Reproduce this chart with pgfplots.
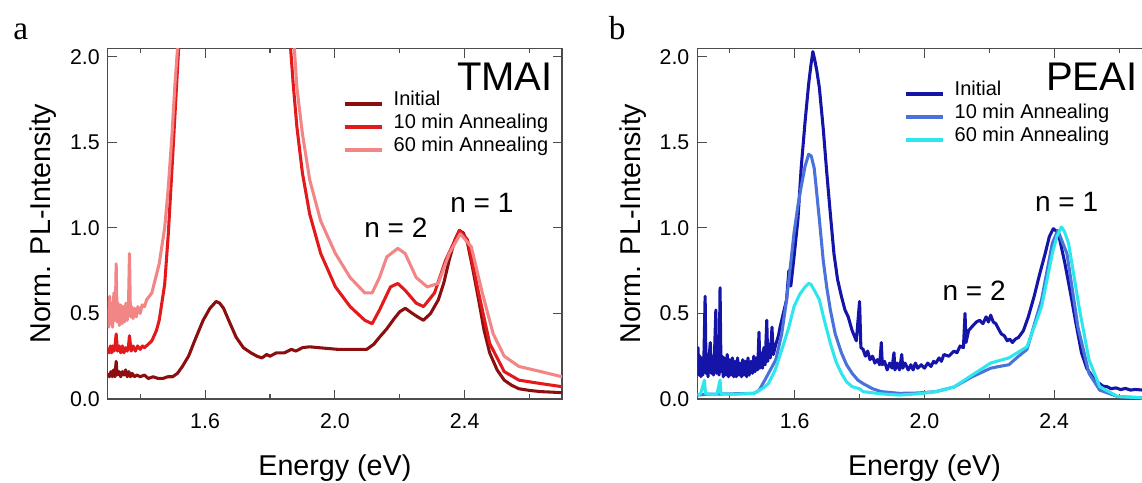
\documentclass[border=0pt]{standalone}
\usepackage{pgfplots}
\pgfplotsset{compat=1.18}
\usepackage{fontspec}
\setmainfont{Liberation Sans}
\newfontfamily\seriffont{Liberation Serif}
\definecolor{rI}{HTML}{8C0E0E}
\definecolor{rA}{HTML}{E31A1C}
\definecolor{rB}{HTML}{F28585}
\definecolor{bI}{HTML}{1414A8}
\definecolor{bA}{HTML}{4A72DB}
\definecolor{bB}{HTML}{2EE6EE}
\tikzset{lab/.style={anchor=base, inner sep=0pt, font=\fontsize{21}{25}\selectfont}}
\pgfplotsset{
 panel/.style={
  scale only axis, width=340.7pt, height=263pt, anchor=south west,
  xmin=1.3, xmax=2.7, ymin=0, ymax=2.049,
  xtick={1.6,2.0,2.4}, xticklabels={1.6,2.0,2.4},
  minor xtick={1.4,1.8,2.2,2.6},
  ytick={0,0.5,1,1.5,2}, yticklabels={0.0,0.5,1.0,1.5,2.0},
  tick align=inside, xtick pos=both, ytick pos=both,
  xticklabel pos=lower, yticklabel pos=left,
  major tick length=7pt, minor tick length=3.5pt,
  axis line style={black!70, line width=0.8pt},
  every tick/.style={black!70, line width=0.8pt},
  tick label style={font=\fontsize{16}{19}\selectfont},
  xticklabel style={anchor=center, yshift=-16.3pt},
  yticklabel style={anchor=east, inner sep=0pt, xshift=-5.8pt},
  xlabel={Energy (eV)}, ylabel={Norm. PL-Intensity},
  xlabel style={at={(axis description cs:0.5,-0.2187)}, anchor=base, font=\fontsize{21.5}{26}\selectfont},
  ylabel style={at={(axis description cs:-0.125,0.5)}, anchor=base, font=\fontsize{21.5}{26}\selectfont},
  legend style={anchor=west, draw=none, fill=none, inner sep=0pt, outer sep=0pt,
    font=\fontsize{15}{18}\selectfont,
    nodes={inner sep=0pt, text height=11pt, text depth=3pt, anchor=base west},
    row sep=3.25pt, /tikz/every odd column/.append style={column sep=7.7pt}},
  legend cell align=left,
  legend image code/.code={\draw[#1, line width=2.3pt] (0pt,1pt) -- (28pt,1pt);},
  every axis plot/.append style={line width=2.3pt, line join=round},
 },
}
\begin{document}
\begin{tikzpicture}
\path[use as bounding box] (0,0) rectangle (856.5pt,361.5pt);
\clip (0,0) rectangle (856.5pt,361.5pt);
% ---------------- panel a ----------------
\begin{axis}[panel, at={(80.8pt,62.25pt)},
  legend style={at={(axis description cs:0.518,0.787)}}]
\addplot[rI] coordinates {
(1.300,0.15)(1.305,0.13)(1.310,0.16)(1.314,0.13)(1.318,0.17)(1.322,0.13)(1.326,0.22)(1.329,0.14)
(1.335,0.16)(1.340,0.13)(1.345,0.16)(1.350,0.14)(1.355,0.17)(1.360,0.13)(1.365,0.16)(1.370,0.13)
(1.375,0.15)(1.382,0.13)(1.390,0.14)(1.400,0.13)(1.413,0.14)(1.425,0.12)(1.440,0.13)(1.455,0.12)
(1.470,0.12)(1.485,0.13)(1.500,0.13)
(1.515,0.15)(1.530,0.19)(1.549,0.25)(1.570,0.35)(1.594,0.46)(1.615,0.53)(1.634,0.57)
(1.645,0.56)(1.657,0.53)(1.675,0.45)(1.696,0.36)(1.718,0.30)(1.741,0.27)(1.760,0.25)
(1.775,0.24)(1.790,0.26)(1.800,0.25)(1.820,0.27)(1.845,0.27)(1.866,0.29)(1.880,0.28)
(1.900,0.30)(1.922,0.305)(1.950,0.30)(1.979,0.295)(2.010,0.29)(2.036,0.29)(2.070,0.29)
(2.098,0.29)(2.120,0.32)(2.137,0.36)(2.160,0.41)(2.183,0.47)(2.200,0.51)(2.217,0.53)
(2.239,0.50)(2.255,0.48)(2.273,0.46)(2.295,0.50)(2.319,0.58)(2.336,0.68)(2.352,0.81)
(2.370,0.93)(2.384,0.985)(2.396,0.97)(2.409,0.91)(2.425,0.76)(2.443,0.58)(2.460,0.40)
(2.477,0.27)(2.500,0.17)(2.522,0.11)(2.545,0.08)(2.567,0.06)(2.600,0.05)(2.635,0.043)
(2.670,0.04)(2.700,0.037)};
\addlegendentry{Initial}
\addplot[rA] coordinates {
(1.300,0.30)(1.304,0.27)(1.308,0.31)(1.312,0.27)(1.315,0.31)(1.319,0.28)(1.322,0.30)(1.326,0.38)
(1.330,0.28)(1.335,0.31)(1.340,0.27)(1.345,0.31)(1.350,0.27)(1.355,0.30)(1.360,0.28)(1.364,0.31)
(1.367,0.37)(1.372,0.28)(1.378,0.31)(1.385,0.28)(1.392,0.31)(1.400,0.29)(1.407,0.31)(1.413,0.30)
(1.425,0.32)(1.436,0.34)(1.450,0.40)(1.4586,0.46)(1.4755,0.67)(1.4868,0.97)(1.4982,1.35)
(1.5095,1.74)(1.5185,2.05)(1.530,2.6)(1.850,2.6)
(1.8636,2.05)(1.8716,1.84)(1.883,1.59)(1.900,1.32)(1.9225,1.08)(1.9564,0.85)(2.0017,0.655)
(2.047,0.54)(2.0922,0.46)(2.1149,0.44)(2.1375,0.52)(2.1714,0.655)(2.194,0.675)(2.2167,0.635)
(2.2506,0.56)(2.2733,0.54)(2.3072,0.62)(2.3412,0.81)(2.3842,0.985)(2.409,0.93)(2.443,0.62)
(2.477,0.325)(2.522,0.16)(2.5675,0.11)(2.635,0.09)(2.700,0.072)};
\addlegendentry{10 min Annealing}
\addplot[rB] coordinates {
(1.300,0.50)(1.303,0.42)(1.306,0.60)(1.309,0.44)(1.312,0.56)(1.315,0.42)(1.319,0.62)(1.323,0.46)
(1.326,0.79)(1.329,0.45)(1.332,0.56)(1.336,0.43)(1.340,0.55)(1.344,0.44)(1.348,0.54)(1.352,0.45)
(1.356,0.56)(1.360,0.46)(1.364,0.55)(1.367,0.85)(1.370,0.48)(1.374,0.54)(1.378,0.47)(1.383,0.53)
(1.388,0.48)(1.393,0.54)(1.400,0.50)(1.406,0.55)(1.4133,0.54)(1.420,0.58)(1.436,0.62)(1.4586,0.79)
(1.4755,1.00)(1.4868,1.24)(1.4982,1.55)(1.5072,1.84)(1.5151,2.05)(1.520,2.6)(1.860,2.6)
(1.875,2.05)(1.883,1.82)(1.900,1.55)(1.9225,1.28)(1.9564,1.04)(2.0017,0.85)(2.047,0.71)
(2.0922,0.62)(2.1149,0.62)(2.1375,0.71)(2.160,0.83)(2.194,0.88)(2.2167,0.85)(2.2506,0.71)
(2.2846,0.655)(2.3185,0.675)(2.3525,0.85)(2.3864,0.965)(2.4204,0.89)(2.4543,0.62)
(2.488,0.38)(2.522,0.25)(2.5675,0.19)(2.635,0.16)(2.700,0.13)};
\addlegendentry{60 min Annealing}
\node[anchor=base east, inner sep=0pt, font=\fontsize{30}{36}\selectfont] at (axis description cs:0.9802,0.8811) {TMAI};
\node[lab] at (axis cs:2.453,1.087) {n = 1};
\node[lab] at (axis cs:2.188,0.941) {n = 2};
\end{axis}
% ---------------- panel b ----------------
\begin{axis}[panel, at={(523pt,62.25pt)},
  legend style={at={(axis description cs:0.455,0.8155)}}]
\addplot[bI] coordinates {
(1.300,0.19)(1.302,0.30)(1.305,0.14)(1.308,0.25)(1.311,0.13)(1.314,0.24)(1.317,0.14)(1.320,0.22)
(1.324,0.60)(1.327,0.15)(1.330,0.26)(1.333,0.13)(1.336,0.24)(1.340,0.33)(1.343,0.15)(1.346,0.25)
(1.350,0.14)(1.353,0.27)(1.357,0.52)(1.360,0.15)(1.364,0.26)(1.367,0.14)(1.370,0.65)(1.373,0.16)
(1.377,0.25)(1.380,0.13)(1.384,0.24)(1.388,0.14)(1.392,0.26)(1.396,0.13)(1.400,0.23)(1.404,0.14)
(1.408,0.24)(1.412,0.13)(1.416,0.22)(1.420,0.13)(1.424,0.24)(1.428,0.14)(1.432,0.21)(1.436,0.13)
(1.440,0.23)(1.444,0.14)(1.448,0.22)(1.452,0.13)(1.456,0.24)(1.460,0.14)(1.465,0.22)(1.470,0.15)
(1.474,0.25)(1.478,0.16)(1.482,0.24)(1.486,0.17)(1.490,0.39)(1.493,0.18)(1.497,0.27)(1.501,0.18)
(1.505,0.30)(1.509,0.20)(1.514,0.46)(1.517,0.22)(1.521,0.32)(1.525,0.24)(1.530,0.42)(1.534,0.26)
(1.542,0.32)(1.550,0.37)(1.555,0.42)(1.565,0.50)
(1.575,0.58)(1.582,0.75)(1.588,0.66)(1.598,0.83)(1.610,1.05)(1.620,1.35)(1.632,1.62)
(1.643,1.84)(1.650,1.95)(1.656,2.03)(1.662,1.98)(1.668,1.92)(1.676,1.82)(1.688,1.58)
(1.699,1.32)(1.710,1.08)(1.721,0.85)(1.732,0.70)(1.744,0.60)(1.755,0.52)(1.765,0.48)
(1.777,0.40)(1.790,0.34)(1.800,0.57)(1.804,0.30)(1.811,0.29)(1.818,0.25)(1.825,0.28)(1.832,0.23)
(1.840,0.25)(1.847,0.21)(1.855,0.23)(1.862,0.20)(1.867,0.33)(1.870,0.20)(1.877,0.22)(1.885,0.17)
(1.893,0.21)(1.900,0.18)(1.906,0.27)(1.909,0.17)(1.916,0.21)(1.923,0.17)(1.930,0.26)(1.933,0.18)
(1.940,0.21)(1.950,0.17)(1.958,0.20)(1.965,0.17)(1.972,0.21)(1.979,0.18)(1.990,0.20)(2.000,0.18)
(2.010,0.21)(2.020,0.19)(2.028,0.22)(2.035,0.21)(2.045,0.24)(2.052,0.22)
(2.060,0.26)(2.075,0.25)(2.091,0.28)(2.100,0.27)(2.110,0.31)(2.120,0.30)(2.125,0.50)(2.128,0.33)(2.136,0.40)
(2.150,0.43)(2.160,0.45)(2.170,0.46)(2.180,0.44)(2.190,0.48)(2.197,0.45)(2.204,0.49)(2.212,0.45)
(2.220,0.44)(2.228,0.41)(2.237,0.38)(2.246,0.37)(2.255,0.34)(2.263,0.35)
(2.271,0.33)(2.280,0.35)(2.290,0.36)(2.305,0.40)(2.320,0.48)(2.338,0.60)(2.355,0.73)(2.372,0.85)
(2.385,0.95)(2.397,0.995)(2.407,0.98)(2.417,0.93)(2.432,0.80)(2.450,0.62)(2.467,0.44)
(2.484,0.27)(2.500,0.18)(2.518,0.13)(2.530,0.10)(2.540,0.09)(2.550,0.075)(2.563,0.072)(2.575,0.06)
(2.590,0.065)(2.605,0.055)(2.619,0.062)(2.635,0.052)
(2.650,0.056)(2.673,0.052)(2.700,0.05)};
\addlegendentry{Initial}
\addplot[bA] coordinates {
(1.300,0.023)(1.330,0.028)(1.400,0.030)(1.474,0.033)(1.490,0.05)(1.508,0.11)(1.525,0.17)
(1.542,0.23)(1.560,0.38)(1.575,0.58)(1.587,0.78)(1.598,0.97)(1.610,1.13)(1.620,1.24)
(1.632,1.36)(1.643,1.43)(1.651,1.42)(1.660,1.35)(1.665,1.26)(1.676,1.05)(1.688,0.81)
(1.699,0.65)(1.710,0.52)(1.725,0.38)(1.744,0.27)(1.760,0.20)(1.777,0.15)(1.795,0.11)
(1.811,0.09)(1.840,0.06)(1.867,0.043)(1.923,0.033)(1.979,0.035)(2.035,0.043)(2.091,0.07)
(2.147,0.13)(2.204,0.18)(2.230,0.19)(2.260,0.20)(2.290,0.25)(2.316,0.29)(2.361,0.58)
(2.394,0.91)(2.411,0.985)(2.439,0.85)(2.473,0.42)(2.507,0.15)(2.540,0.052)(2.596,0.014)
(2.700,0.004)};
\addlegendentry{10 min Annealing}
\addplot[bB] coordinates {
(1.300,0.023)(1.310,0.03)(1.322,0.11)(1.325,0.03)(1.360,0.025)(1.370,0.11)(1.373,0.03)
(1.420,0.028)(1.474,0.033)(1.500,0.06)(1.519,0.09)(1.540,0.17)(1.564,0.31)(1.582,0.42)
(1.598,0.54)(1.615,0.61)(1.632,0.655)(1.643,0.675)(1.650,0.67)(1.665,0.62)(1.676,0.58)
(1.690,0.47)(1.710,0.325)(1.727,0.22)(1.744,0.15)(1.760,0.10)(1.777,0.072)(1.800,0.06)
(1.811,0.043)(1.867,0.03)(1.923,0.023)(1.979,0.03)(2.035,0.043)(2.091,0.07)(2.147,0.14)
(2.204,0.21)(2.260,0.24)(2.316,0.305)(2.361,0.54)(2.394,0.85)(2.408,0.95)(2.422,1.005)
(2.431,0.98)(2.444,0.91)(2.478,0.52)(2.507,0.23)(2.540,0.072)(2.596,0.014)(2.700,0.004)};
\addlegendentry{60 min Annealing}
\node[anchor=base west, inner sep=0pt, font=\fontsize{30}{36}\selectfont] at (axis description cs:0.7676,0.8811) {PEAI};
\node[lab] at (axis cs:2.438,1.094) {n = 1};
\node[lab] at (axis cs:2.153,0.578) {n = 2};
\end{axis}
\node[anchor=base west, inner sep=0pt, font=\seriffont\fontsize{25}{30}\selectfont] at (9.75pt,331.5pt) {a};
\node[anchor=base west, inner sep=0pt, font=\seriffont\fontsize{25}{30}\selectfont] at (456.5pt,331.5pt) {b};
\end{tikzpicture}
\end{document}
